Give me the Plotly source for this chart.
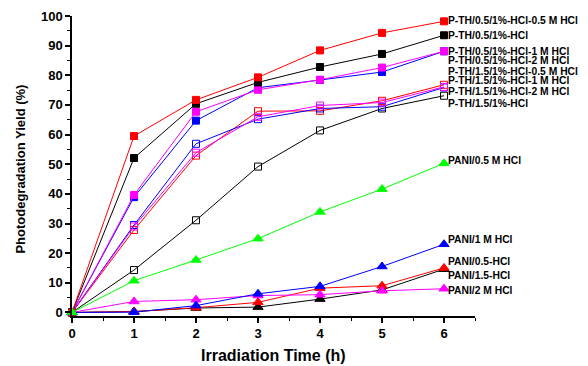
import plotly.graph_objects as go

# ---- data ----
time_h = [0, 1, 2, 3, 4, 5, 6]

pth_05_05M = [0, 59.5, 71.7, 79.3, 88.4, 94.3, 98.2]
pth_05 = [0, 52.1, 70.4, 77.6, 82.8, 87.2, 93.5]
pth_05_1M = [0, 38.9, 64.7, 75.8, 78.4, 81.1, 88.1]
pth_05_2M = [0, 39.6, 67.7, 75.1, 78.5, 82.6, 88.1]
pth_15_05M = [0, 27.8, 52.9, 67.9, 68.0, 71.4, 76.8]
pth_15_1M = [0, 29.5, 56.9, 65.2, 68.8, 69.4, 75.9]
pth_15_2M = [0, 29.0, 53.9, 66.0, 69.8, 70.8, 76.1]
pth_15 = [0, 14.3, 31.1, 49.2, 61.4, 68.8, 73.1]

pani_15 = [0, 0.3, 1.5, 1.8, 4.5, 7.6, 14.6]
pani_05 = [0, 0.3, 1.6, 3.4, 8.2, 9.0, 15.0]
pani_2M = [0, 3.7, 4.3, 5.7, 6.0, 7.3, 8.0]
pani_1M = [0, 0.1, 2.3, 6.3, 8.8, 15.5, 23.0]
pani_05M = [0, 10.7, 17.7, 24.9, 33.9, 41.6, 50.3]

labels = [
    "P-TH/0.5/1%-HCl-0.5 M HCl",
    "P-TH/0.5/1%-HCl",
    "P-TH/0.5/1%-HCl-1 M HCl",
    "P-TH/0.5/1%-HCl-2 M HCl",
    "P-TH/1.5/1%-HCl-0.5 M HCl",
    "P-TH/1.5/1%-HCl-1 M HCl",
    "P-TH/1.5/1%-HCl-2 M HCl",
    "P-TH/1.5/1%-HCl",
    "PANI/0.5 M HCl",
    "PANI/1 M HCl",
    "PANI/0.5-HCl",
    "PANI/1.5-HCl",
    "PANI/2 M HCl",
]
# vertical positions of the end labels (data units)
label_y = [98.4, 93.5, 88.1, 84.9, 81.3, 78.3, 74.6, 70.4, 51.2, 24.5, 17.2, 12.5, 7.4]

x_title = "Irradiation Time (h)"
y_title = "Photodegradation Yield (%)"

# ---- figure ----
FONT = "Liberation Sans, Arial, sans-serif"
fig = go.Figure()

series = [
    (pth_15, "black", "square-open", 7),
    (pth_15_05M, "#FF0000", "square-open", 7),
    (pth_15_1M, "#0000FF", "square-open", 7),
    (pth_15_2M, "#FF00FF", "square-open", 7),
    (pth_05_1M, "#0000FF", "square", 7),
    (pth_05_2M, "#FF00FF", "square", 7),
    (pth_05, "black", "square", 7),
    (pth_05_05M, "#FF0000", "square", 7),
    (pani_15, "black", "triangle-up", 9),
    (pani_05, "#FF0000", "triangle-up", 9),
    (pani_2M, "#FF00FF", "triangle-up", 9),
    (pani_1M, "#0000FF", "triangle-up", 9),
    (pani_05M, "#00FF00", "triangle-up", 9),
]

for ys, col, sym, sz in series:
    fig.add_trace(go.Scatter(
        x=time_h, y=ys, mode="lines+markers",
        line=dict(color=col, width=1),
        marker=dict(symbol=sym, size=sz, color=col,
                    line=dict(color=col, width=1)),
        cliponaxis=False, showlegend=False,
    ))

for txt, yy in zip(labels, label_y):
    fig.add_annotation(
        x=time_h[-1], y=yy, xref="x", yref="y", text=txt,
        showarrow=False, xanchor="left", yanchor="middle", xshift=2,
        font=dict(family=FONT, size=10.3, color="black", weight="bold"),
    )

# axis titles
fig.add_annotation(
    x=0.5, y=-0.133, xref="paper", yref="paper", text=x_title,
    showarrow=False, xanchor="center", yanchor="middle",
    font=dict(family=FONT, size=16, color="black", weight="bold"),
)
fig.add_annotation(
    x=-0.130, y=0.49, xref="paper", yref="paper", text=y_title, textangle=-90,
    showarrow=False, xanchor="center", yanchor="middle",
    font=dict(family=FONT, size=13, color="black", weight="bold"),
)

# page body has an 8px margin, so the figure is 8px smaller and offset
fig.update_layout(
    width=580, height=358,
    margin=dict(l=64, r=113, t=8, b=50, autoexpand=False),
    paper_bgcolor="white", plot_bgcolor="white",
    font=dict(family=FONT, color="black"),
)
fig.update_xaxes(
    range=[0, 6.5], tickmode="linear", tick0=0, dtick=1, automargin=False,
    ticks="outside", ticklen=5, tickwidth=1.5, tickcolor="black",
    minor=dict(dtick=0.5, ticks="outside", ticklen=3, tickcolor="black", tickwidth=1),
    showline=True, linecolor="black", linewidth=1.5,
    showgrid=False, zeroline=False,
    tickfont=dict(family=FONT, size=13, weight="bold"),
)
fig.update_yaxes(
    range=[-1.2, 100], tickmode="linear", tick0=0, dtick=10, automargin=False,
    ticks="outside", ticklen=5, tickwidth=1.5, tickcolor="black",
    minor=dict(dtick=5, ticks="outside", ticklen=3, tickcolor="black", tickwidth=1),
    showline=True, linecolor="black", linewidth=1.5,
    showgrid=False, zeroline=False,
    tickfont=dict(family=FONT, size=13, weight="bold"),
)

fig.write_html("out.html")
